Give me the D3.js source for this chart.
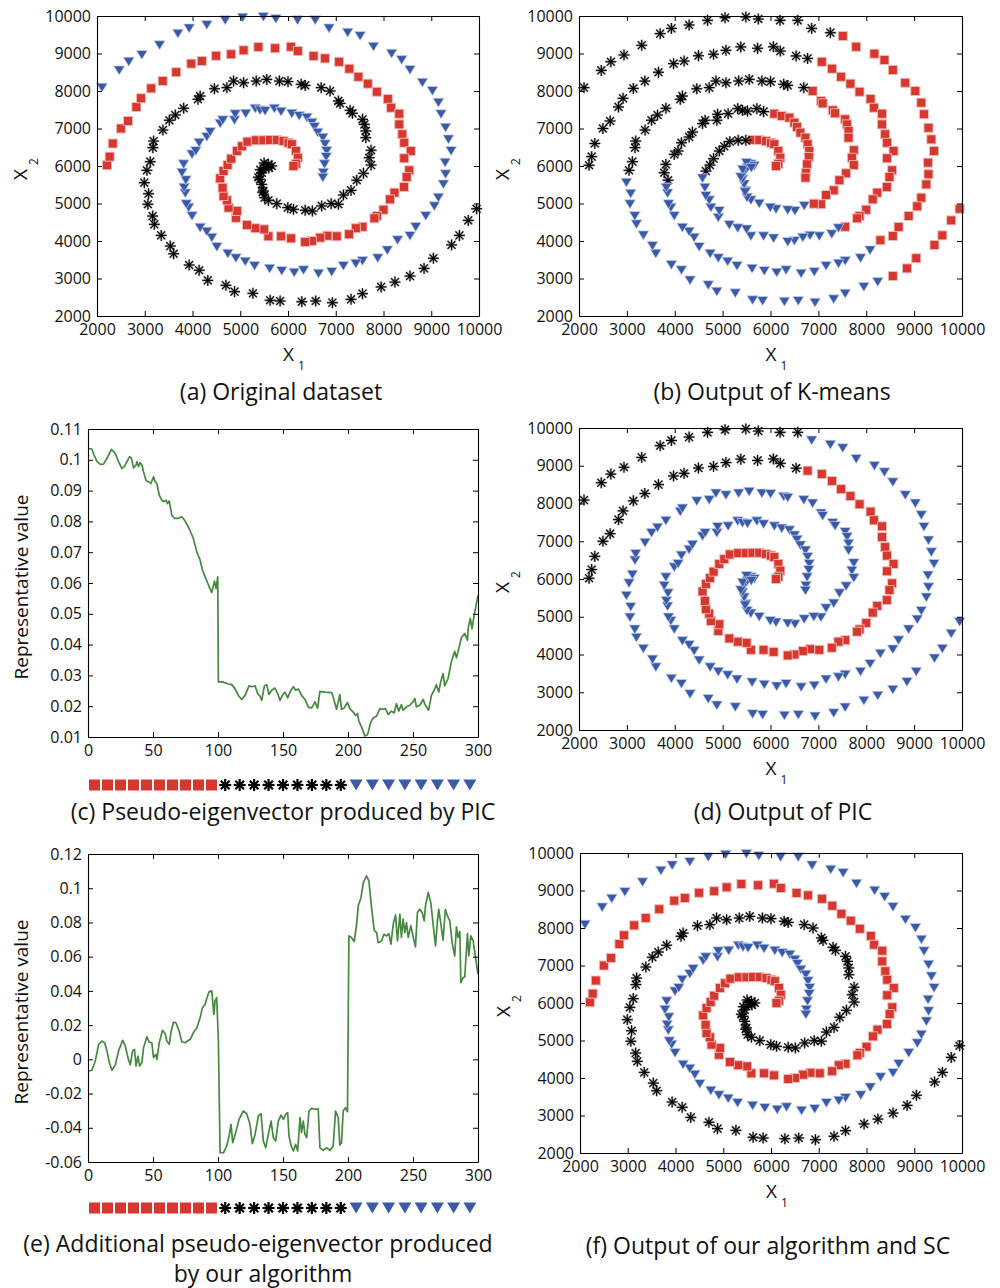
<!DOCTYPE html>
<html><head><meta charset="utf-8">
<script src="https://cdn.jsdelivr.net/npm/d3@7"></script>
<style>
body{margin:0;background:#fff}
text{font-family:'Open Sans',sans-serif;fill:#111}
</style>
</head><body>
<svg id="c" width="1000" height="1288"></svg>
<script>
// ---------------- DATA ----------------
// Three spiral arms (data units X1, X2)
const redArm = [[2210,6020],[2265,6250],[2330,6600],[2500,7000],[2650,7200],[2825,7575],[2920,7805],[3135,8070],[3375,8265],[3660,8500],
[3975,8730],[4195,8800],[4495,8940],[4810,8980],[5070,9085],[5380,9175],[5730,9140],[6060,9180],[6205,9065],[6535,8935],
[6775,8870],[7070,8780],[7285,8595],[7475,8380],[7670,8195],[7860,7980],[8090,7785],[8160,7555],[8330,7395],[8330,7110],
[8395,6845],[8435,6620],[8570,6400],[8435,6205],[8540,5885],[8485,5705],[8430,5440],[8230,5290],[8135,5110],[8000,4835],
[7860,4665],[7810,4605],[7560,4380],[7420,4340],[7280,4180],[7020,4125],[6825,4140],[6675,4090],[6500,4000],[6360,3975],
[6065,4070],[5855,4125],[5590,4125],[5500,4310],[5315,4340],[5140,4425],[4910,4620],[4930,4800],[4755,4890],[4720,5085],
[4650,5200],[4630,5420],[4580,5670],[4650,5865],[4735,6025],[4810,6195],[4930,6400],[5035,6525],[5150,6650],[5325,6685],
[5485,6685],[5625,6695],[5765,6695],[5905,6665],[6010,6620],[6080,6580],[6165,6400],[6205,6220],[6165,6060],[6115,6000]];

const blackArm = [[9950,4860],[9775,4550],[9590,4150],[9425,3895],[9045,3540],[8850,3270],[8555,3065],[8240,2905],[7950,2775],[7560,2595],
[7320,2445],[6930,2355],[6580,2400],[6290,2380],[5835,2400],[5625,2420],[5265,2605],[4880,2650],[4700,2820],[4320,2950],
[4140,3220],[3930,3360],[3605,3660],[3535,3865],[3345,4150],[3200,4445],[3165,4665],[3065,4980],[3080,5260],[2990,5555],
[3045,5885],[3115,6115],[3170,6490],[3185,6665],[3380,6960],[3515,7220],[3640,7360],[3815,7540],[4115,7780],[4160,7865],
[4460,8060],[4720,8090],[4860,8265],[5070,8220],[5335,8265],[5555,8310],[5820,8265],[6000,8250],[6275,8180],[6360,8150],
[6695,8090],[6880,8000],[7055,7735],[7090,7670],[7300,7485],[7350,7405],[7560,7245],[7600,7110],[7630,6935],[7630,6755],
[7740,6420],[7700,6220],[7740,6025],[7580,5805],[7440,5620],[7320,5350],[7160,5225],[7055,4980],[6905,4995],[6705,4935],
[6510,4800],[6360,4820],[6115,4845],[5995,4890],[5765,4995],[5590,5085],[5510,5155],[5485,5335],[5450,5510],[5415,5645],
[5450,5820],[5520,5955],[5590,6045],[5660,6000],[5380,5700],[5420,5900],[5500,6080],[5600,5950],[5470,5300]];

const blueArm = [[2105,8090],[2465,8550],[2665,8780],[2940,8960],[3310,9220],[3695,9530],[3930,9670],[4300,9760],[4685,9885],[5050,9955],
[5485,9975],[5745,9920],[6200,9885],[6570,9885],[6860,9670],[7250,9555],[7510,9465],[7790,9180],[8170,8995],[8380,8825],
[8555,8560],[8815,8220],[9025,8000],[9150,7690],[9205,7380],[9300,7020],[9360,6710],[9415,6400],[9290,6090],[9300,5780],
[9255,5510],[9150,5155],[9065,4925],[8885,4665],[8675,4375],[8555,4135],[8295,4020],[8080,3750],[7880,3540],[7560,3465],
[7420,3395],[7160,3335],[6915,3175],[6640,3130],[6325,3220],[6130,3155],[5870,3200],[5615,3260],[5300,3335],[5105,3450],
[4910,3540],[4740,3660],[4510,3840],[4405,4090],[4300,4250],[4160,4355],[3990,4665],[3920,4890],[3870,4980],[3850,5270],
[3825,5420],[3860,5620],[3780,5820],[3815,6045],[3990,6310],[4070,6400],[4140,6620],[4300,6775],[4370,6905],[4580,7130],
[4635,7220],[4880,7220],[4895,7380],[5115,7395],[5315,7530],[5415,7485],[5520,7465],[5715,7530],[5855,7450],[6080,7395],
[6235,7335],[6395,7290],[6500,7155],[6555,7040],[6625,6890],[6730,6755],[6775,6580],[6810,6400],[6800,6240],[6765,6045],
[6740,5820],[6730,5690]];

// Cluster labels as runs [count, class]  (r = square, k = asterisk, b = triangle)
const runsA_red = [[80,'r']], runsA_black = [[89,'k']], runsA_blue = [[92,'b']];
const runsB_red = [[21,'k'],[22,'r'],[20,'b'],[8,'k'],[9,'r']];
const runsB_black = [[7,'r'],[23,'b'],[21,'k'],[18,'r'],[20,'b']];
const runsB_blue = [[16,'k'],[21,'r'],[24,'b'],[18,'k'],[13,'r']];
const runsD_red = [[20,'k'],[60,'r']];
const runsD_black = [[89,'b']];
const runsD_blue = [[14,'k'],[78,'b']];

// Pseudo-eigenvector of PIC (panel c)
const picX = [0,3,4.4,7,9.5,12,14.6,18,21,23.5,26,28,30,32,33.3,35,37,37.6,39,40,41.5,42.7,44.8,46.6,48.4,50.4,51.7,53,54.8,56.8,58,60,61.2,62.5,64.5,66.5,69.6,72.2,74.7,77.8,81,83.7,86.3,88,90.6,93.2,95.2,97.3,98.5,99.8,
100.3,103.4,107.5,110.6,113,115.7,118.2,120.8,123.9,126,128.5,130.5,132.3,133.6,135.7,137.4,139.2,141.3,143.8,145.9,147.7,150.3,151.5,153.6,156.1,158,159.7,161.8,164.3,166.9,169.5,172,174.6,176.6,178.4,182.2,187.4,188.6,191.2,192.5,193.7,195,197,199.6,
201.4,204,205.8,207.3,208.4,210.4,213,215,217.6,219.4,222,224.5,227,228.8,231,233.4,235.5,237.3,239,241.1,242.4,245,247.5,250,251.4,252.6,255.2,257.8,259.5,262,264.2,266.7,268,269.8,271.3,273.1,274.4,277,279.5,282.1,283.4,285.2,287.2,289.8,291.9,292.4,294.1,295.4,297,298.8,300];
const picY = [0.1037,0.1035,0.1018,0.0994,0.0985,0.0986,0.1005,0.1034,0.1021,0.0994,0.0972,0.0978,0.0994,0.1010,0.1007,0.0974,0.0983,0.0994,0.0978,0.0991,0.0983,0.0961,0.0931,0.0929,0.0923,0.0945,0.0929,0.0923,0.0885,0.0869,0.0864,0.0869,0.0858,0.0866,0.0820,0.0810,0.0810,0.0815,0.0801,0.0777,0.0745,0.0701,0.0674,0.0642,0.0615,0.0588,0.0569,0.0606,0.0582,0.0620,
0.0279,0.0279,0.0273,0.0270,0.0257,0.0235,0.0222,0.0235,0.0266,0.0263,0.0266,0.0241,0.0233,0.0219,0.0266,0.0270,0.0238,0.0252,0.0259,0.0241,0.0219,0.0241,0.0246,0.0227,0.0252,0.0263,0.0252,0.0256,0.0235,0.0222,0.0197,0.0194,0.0214,0.0194,0.0248,0.0246,0.0244,0.0230,0.0190,0.0214,0.0238,0.0190,0.0194,0.0212,
0.0192,0.0181,0.0170,0.0176,0.0151,0.0133,0.0103,0.0107,0.0149,0.0162,0.0168,0.0192,0.0190,0.0192,0.0173,0.0184,0.0178,0.0208,0.0184,0.0205,0.0187,0.0198,0.0203,0.0214,0.0225,0.0198,0.0203,0.0222,0.0203,0.0187,0.0235,0.0256,0.0270,0.0246,0.0279,0.0306,0.0266,0.0290,0.0344,0.0378,0.0357,0.0387,0.0422,0.0436,0.0414,0.0452,0.0485,0.0452,0.0495,0.0533,0.0560];

// Additional pseudo-eigenvector of our algorithm (panel e)
const oursX = [0.5,3,5.6,8.2,10.7,12.8,14.6,16.4,18.4,21,23.5,26.6,28.7,30.7,32.5,34.3,35.8,36.9,38.4,39.7,41.5,42.7,45.3,47.1,49.1,50.4,52.2,53,54.8,57.3,59.4,60.6,62.5,64,65.8,67.6,70.1,72.2,74.7,78.6,81.1,83.7,86.3,88,90.1,91.4,93.2,95.2,96.8,97.8,99,100.3,
101.6,104.2,106.7,108.5,110,111.3,113.6,116.2,119.5,122.1,124.6,126.4,128.5,131.1,133.1,134.9,136.7,138.7,140.8,142.6,144.4,146.4,148.5,150.3,152,153.6,154.6,156.1,158,159.7,161.3,163.1,164.3,165.6,166.9,168.2,170,172,174.6,177.1,178.4,181,183.5,186.1,188.6,190.4,192.5,193.7,195,196.3,198.1,199.6,
200.7,202.7,204.8,206.6,207.9,209.9,211.8,214.2,216.1,218.1,220.2,222,223.2,225.8,227.6,229.7,231.5,233,234.8,236.6,238.1,239.9,241.1,242.4,243.7,245,246.3,248.3,250,251.9,253.4,255.2,257,258.6,259.6,261.7,263.7,265.5,267.3,268.8,269.8,271.3,273.1,274.9,276.5,278.3,280.1,282.1,283.4,284.7,286,286.8,288.6,289.8,291.9,292.9,294.5,296.3,298.1,300];
const oursY = [-0.0068,-0.0064,-0.0010,0.0088,0.0107,0.0097,0.0049,-0.0019,-0.0064,-0.0033,0.0049,0.0111,0.0078,0.0010,-0.0033,0.0049,0.0058,-0.0039,0.0019,-0.0039,-0.0019,0.0068,0.0131,0.0101,0.0097,0.0010,0.0029,0,0.0097,0.0170,0.0150,0.0107,0.0088,0.0166,0.0218,0.0214,0.0166,0.0103,0.0097,0.0117,0.0156,0.0185,0.0244,0.0302,0.0322,0.0357,0.0396,0.0400,0.0263,0.0345,0.0361,0.0107,
-0.0546,-0.0546,-0.0507,-0.0448,-0.0380,-0.0487,-0.0429,-0.0351,-0.0302,-0.0318,-0.0380,-0.0493,-0.0439,-0.0331,-0.0318,-0.0478,-0.0517,-0.0439,-0.0361,-0.0458,-0.0478,-0.0361,-0.0326,-0.0351,-0.0322,-0.0312,-0.0448,-0.0501,-0.0536,-0.0497,-0.0536,-0.0341,-0.0429,-0.0361,-0.0439,-0.0458,-0.0302,-0.0287,-0.0292,-0.0289,-0.0517,-0.0532,-0.0517,-0.0532,-0.0507,-0.0302,-0.0341,-0.0501,-0.0487,-0.0302,-0.0283,-0.0306,
0.0721,0.0712,0.0688,0.0789,0.0897,0.0942,0.1033,0.1072,0.1043,0.0887,0.0754,0.0741,0.0682,0.0692,0.0731,0.0721,0.0735,0.0673,0.0789,0.0844,0.0692,0.0848,0.0712,0.0819,0.0741,0.0799,0.0712,0.0780,0.0721,0.0657,0.0858,0.0877,0.0858,0.0809,0.0897,0.0975,0.0916,0.0789,0.0663,0.0809,0.0877,0.0799,0.0696,0.0877,0.0838,0.0809,0.0682,0.0604,0.0774,0.0712,0.0747,0.0448,0.0478,0.0481,0.0735,0.0604,0.0721,0.0692,0.0595,0.0497];

// Ticks
const spiralTicks = [2000,3000,4000,5000,6000,7000,8000,9000,10000];
const spiralTickLabels = ["2000","3000","4000","5000","6000","7000","8000","9000","10000"];
const idxTicks = [0,50,100,150,200,250,300];
const idxTickLabels = ["0","50","100","150","200","250","300"];
const picTicks = [0.01,0.02,0.03,0.04,0.05,0.06,0.07,0.08,0.09,0.1,0.11];
const picTickLabels = ["0.01","0.02","0.03","0.04","0.05","0.06","0.07","0.08","0.09","0.1","0.11"];
const oursTicks = [-0.06,-0.04,-0.02,0,0.02,0.04,0.06,0.08,0.1,0.12];
const oursTickLabels = ["-0.06","-0.04","-0.02","0","0.02","0.04","0.06","0.08","0.1","0.12"];

// Ground-truth strip under panels c and e
const stripCounts = [10,9,8];
const stripClasses = ['r','k','b'];

// Captions
const captions = ["(a) Original dataset","(b) Output of K-means","(c) Pseudo-eigenvector produced by PIC","(d) Output of PIC","(e) Additional pseudo-eigenvector produced","by our algorithm","(f) Output of our algorithm and SC"];

// ---------------- DRAWING ----------------
const RED='#d6372e', BLUE='#3a5aa8', GREEN='#45893f';
const svg = d3.select('#c');

function expand(runs){ const out=[]; runs.forEach(([n,c])=>{for(let i=0;i<n;i++) out.push(c);}); return out; }

function marker(g, cls, cx, cy, big){
  if(cls==='r'){
    const s = big?11:9;
    g.append('rect').attr('x',cx-s/2).attr('y',cy-s/2).attr('width',s).attr('height',s)
      .attr('fill',RED).attr('stroke',big?'none':'#f3bcb8').attr('stroke-width',0.9);
  } else if(cls==='b'){
    const w = big?13:11, h = big?11:9;
    g.append('path').attr('d',`M${cx-w/2},${cy-h/2}L${cx+w/2},${cy-h/2}L${cx},${cy+h/2}Z`)
      .attr('fill',BLUE).attr('stroke',big?'none':'#c9d3ee').attr('stroke-width',0.7);
  } else {
    const r = big?6:5.5, d=r*0.72;
    const segs=[[-r,0,r,0],[0,-r,0,r],[-d,-d,d,d],[-d,d,d,-d]];
    const gg=g.append('g');
    if(!big) segs.forEach(s=>gg.append('line').attr('x1',cx+s[0]).attr('y1',cy+s[1]).attr('x2',cx+s[2]).attr('y2',cy+s[3]).attr('stroke','rgba(0,0,0,0.28)').attr('stroke-width',2.4));
    segs.forEach(s=>gg.append('line').attr('x1',cx+s[0]).attr('y1',cy+s[1]).attr('x2',cx+s[2]).attr('y2',cy+s[3]).attr('stroke','#000').attr('stroke-width',big?2.2:1.1));
  }
}

function axes(g, x, y, xt, xl, yt, yl){
  const [x0,x1]=x.range(), [y1,y0]=y.range();
  const fmt = (labels, ticks)=> (d)=>labels[ticks.indexOf(d)];
  g.append('g').attr('transform',`translate(0,${y1})`)
    .call(d3.axisBottom(x).tickValues(xt).tickFormat(fmt(xl,xt)).tickSize(-5).tickSizeOuter(0).tickPadding(8));
  g.append('g').attr('transform',`translate(0,${y0})`)
    .call(d3.axisTop(x).tickValues(xt).tickFormat('').tickSize(-5).tickSizeOuter(0));
  g.append('g').attr('transform',`translate(${x0},0)`)
    .call(d3.axisLeft(y).tickValues(yt).tickFormat(fmt(yl,yt)).tickSize(-5).tickSizeOuter(0).tickPadding(6));
  g.append('g').attr('transform',`translate(${x1},0)`)
    .call(d3.axisRight(y).tickValues(yt).tickFormat('').tickSize(-5).tickSizeOuter(0));
  g.selectAll('.domain').attr('stroke','#000').attr('stroke-width',1.1);
  g.selectAll('.tick line').attr('stroke','#000');
  g.selectAll('.tick text').attr('font-size',16).attr('font-family',"'Open Sans',sans-serif").attr('fill','#111');
}

function xSubLabel(cx, baseY, sub){
  const t = svg.append('text').attr('x',cx-7).attr('y',baseY).attr('font-size',19);
  t.append('tspan').text('X');
  t.append('tspan').text(sub).attr('font-size',12).attr('dx',4).attr('dy',9);
}
function ySubLabel(bx, startY, sub){
  const t = svg.append('text').attr('transform',`translate(${bx},${startY}) rotate(-90)`).attr('font-size',19);
  t.append('tspan').text('X');
  t.append('tspan').text(sub).attr('font-size',12).attr('dx',4).attr('dy',11);
}

function spiralPanel(box, runsRed, runsBlack, runsBlue){
  const g = svg.append('g');
  const x = d3.scaleLinear().domain([2000,10000]).range([box.x0,box.x1]);
  const y = d3.scaleLinear().domain([2000,10000]).range([box.y1,box.y0]);
  const pts=[];
  const add=(arm,runs)=>{const lab=expand(runs); arm.forEach((p,i)=>pts.push({p,c:lab[i]}));};
  add(redArm,runsRed); add(blackArm,runsBlack); add(blueArm,runsBlue);
  const order={r:0,k:1,b:2};
  pts.sort((a,b)=>order[a.c]-order[b.c]);
  const mg=g.append('g');
  pts.forEach(d=>marker(mg,d.c,x(d.p[0]),y(d.p[1]),false));
  axes(g,x,y,spiralTicks,spiralTickLabels,spiralTicks,spiralTickLabels);
  xSubLabel((box.x0+box.x1)/2+2, box.y1+45, '1');
  ySubLabel(box.x0-70, (box.y0+box.y1)/2+14, '2');
}

function linePanel(box, xs, ys, yDomain, yt, yl, stripY){
  const g = svg.append('g');
  const x = d3.scaleLinear().domain([0,300]).range([box.x0,box.x1]);
  const y = d3.scaleLinear().domain(yDomain).range([box.y1,box.y0]);
  g.append('path').datum(xs.map((v,i)=>[v,ys[i]]))
    .attr('d',d3.line().x(d=>x(d[0])).y(d=>y(d[1])))
    .attr('fill','none').attr('stroke',GREEN).attr('stroke-width',1.7).attr('stroke-linejoin','round');
  axes(g,x,y,idxTicks,idxTickLabels,yt,yl);
  svg.append('text').attr('transform',`translate(${box.x0-60},${(box.y0+box.y1)/2+4}) rotate(-90)`)
    .attr('text-anchor','middle').attr('font-size',19).text('Representative value');
  // ground-truth strip
  const sg = svg.append('g');
  stripCounts.forEach((n,gi)=>{
    for(let i=0;i<n;i++){
      const v = gi*100 + (i+0.5)*100/n;
      marker(sg, stripClasses[gi], x(v), stripY, true);
    }
  });
}

spiralPanel({x0:97,x1:479,y0:16,y1:316}, runsA_red, runsA_black, runsA_blue);
spiralPanel({x0:579,x1:962,y0:16,y1:316}, runsB_red, runsB_black, runsB_blue);
spiralPanel({x0:579,x1:962,y0:428,y1:730}, runsD_red, runsD_black, runsD_blue);
spiralPanel({x0:580,x1:962,y0:853,y1:1153}, runsA_red, runsA_black, runsA_blue);
linePanel({x0:88,x1:478,y0:429,y1:737}, picX, picY, [0.01,0.11], picTicks, picTickLabels, 785);
linePanel({x0:88,x1:478,y0:854,y1:1162}, oursX, oursY, [-0.06,0.12], oursTicks, oursTickLabels, 1208);

const capPos = [[281,400],[772,400],[283,820],[783,820],[258,1252],[263,1282],[768,1254]];
captions.forEach((c,i)=>svg.append('text').attr('x',capPos[i][0]).attr('y',capPos[i][1])
  .attr('text-anchor','middle').attr('font-size',23).text(c));
</script>
</body></html>
